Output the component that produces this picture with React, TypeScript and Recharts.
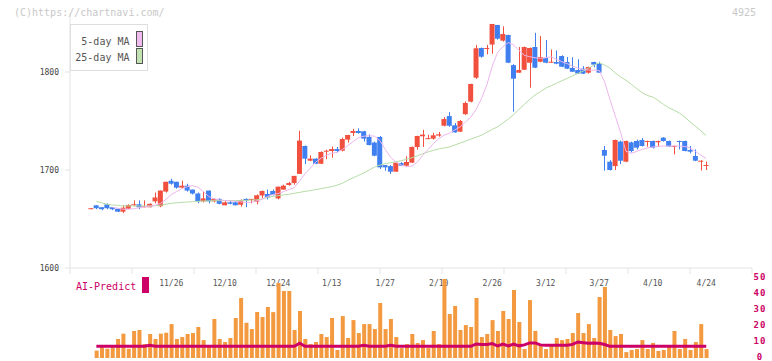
import { ComposedChart, Bar, Line, XAxis, YAxis } from "recharts";

const MONO = "'DejaVu Sans Mono', monospace";
const RED = "#f2503f";
const BLUE = "#3f7ff0";
const MAGENTA = "#cc0066";

// candles, index 0 = first session shown (15 sessions before 11/26)
const opens = [
  1660, 1664, 1662, 1665, 1662, 1660.5, 1657.5, 1660.5, 1664, 1665, 1662, 1662, 1668, 1663, 1678, 1689, 1688, 1682, 1684, 1680,
  1676, 1668, 1679, 1668, 1670.5, 1664, 1667, 1667, 1664.6, 1670.5, 1670, 1667.7, 1674, 1675.5, 1678.6, 1671, 1680, 1684.7, 1686.7, 1696,
  1724.5, 1709.5, 1711.6, 1706.4, 1718.7, 1719.4, 1721.4, 1719.7, 1731, 1737.8, 1739.8, 1739.5, 1733.7, 1728, 1733.7, 1705, 1704, 1698.3, 1707, 1704.4,
  1707.5, 1723.5, 1734.4, 1732, 1732, 1735.1, 1745.2, 1755, 1745.6, 1739.1, 1757, 1769.7, 1794.2, 1824.5, 1823.5, 1828, 1848, 1832, 1837.8, 1807,
  1799.3, 1802.3, 1809.5, 1825.5, 1810.5, 1814.3, 1809.8, 1810.2, 1816.3, 1810.2, 1804.1, 1802, 1803.4, 1799.3, 1810.2, 1808.5, 1720.4, 1708.5, 1704, 1729,
  1708.5, 1728.2, 1729.6, 1730.6, 1728.6, 1729.6, 1728.3, 1733, 1729.6, 1723.5, 1729.6, 1729.6, 1720.4, 1714.3, 1708.5, 1704.1,
];
const highs = [
  1661, 1664, 1662, 1666, 1662, 1661, 1664, 1665, 1669, 1669, 1669, 1666, 1677, 1679, 1688, 1691, 1688, 1689, 1686, 1680,
  1677, 1678, 1679, 1671, 1671, 1669, 1669, 1668, 1670, 1671, 1670.5, 1675, 1679, 1680, 1680, 1683, 1685, 1688, 1694, 1740,
  1725, 1715, 1712, 1719, 1720.7, 1724, 1723.5, 1733, 1736, 1742, 1742.5, 1740, 1736.4, 1729, 1734.7, 1705, 1705, 1708, 1708, 1714,
  1724, 1735, 1741, 1736, 1738, 1738.8, 1754, 1759, 1748, 1751, 1770, 1788, 1827.6, 1825, 1827.6, 1849, 1848, 1846.6, 1838, 1808,
  1825.5, 1826, 1825, 1840, 1836.7, 1832.7, 1823, 1822, 1817, 1815.3, 1815, 1813, 1806, 1805.5, 1810.5, 1810.5, 1724.5, 1710, 1731, 1730,
  1730, 1729, 1731, 1732.7, 1730, 1730, 1730, 1733.5, 1730, 1725, 1730, 1730, 1724.5, 1721, 1710, 1708.5,
];
const lows = [
  1660, 1660, 1659, 1660, 1659, 1657, 1656, 1660, 1663, 1660, 1662, 1662, 1666, 1662, 1677, 1685, 1681, 1681, 1678, 1675,
  1666, 1667, 1666, 1667, 1665, 1664, 1665, 1664, 1662.6, 1662, 1666, 1665, 1671, 1670, 1674, 1670, 1680, 1684, 1685, 1696,
  1706, 1709, 1706, 1706, 1711, 1712.6, 1718, 1719, 1728, 1734.7, 1737, 1729, 1725, 1714, 1701, 1699.3, 1696, 1698, 1704, 1704,
  1707, 1720.7, 1723.5, 1731.5, 1731, 1734, 1744.5, 1744, 1738, 1739, 1756, 1769, 1793, 1814.6, 1818, 1818.7, 1833, 1831, 1809, 1759.5,
  1799, 1802, 1784, 1804, 1810, 1809, 1809.5, 1808, 1805, 1803, 1800, 1798, 1798, 1798.3, 1804.8, 1799, 1699.3, 1699.5, 1700, 1706,
  1708, 1718, 1721, 1724, 1723.8, 1722, 1723.8, 1729, 1723.5, 1716, 1721, 1719, 1717, 1709, 1699.5, 1700,
];
const closes = [
  1661, 1661, 1660, 1661, 1660, 1657.5, 1661.5, 1664.3, 1665, 1662, 1663, 1665.5, 1672, 1679, 1688, 1686, 1682, 1684, 1679, 1676,
  1668, 1671, 1668, 1670.5, 1665.5, 1667, 1665.5, 1664, 1669.4, 1668.7, 1670.5, 1674.2, 1678.6, 1672, 1674.5, 1683, 1684, 1686.7, 1694, 1730,
  1711.6, 1711.6, 1706.4, 1718.4, 1719.7, 1721.4, 1719.4, 1731.6, 1735.7, 1739.8, 1737.8, 1732, 1725.5, 1714.6, 1702.7, 1702.7, 1698.3, 1707.5, 1704.4, 1708.2,
  1723.5, 1734.7, 1736.1, 1732.5, 1735.4, 1736.4, 1752, 1745.2, 1738.4, 1750, 1768.4, 1787.8, 1824.2, 1815.6, 1824.5, 1849, 1834, 1838.8, 1809.5, 1793.2,
  1802, 1825.5, 1824.5, 1804.4, 1815.3, 1809.5, 1810.5, 1808.5, 1805.4, 1803.4, 1800.3, 1798.5, 1798.3, 1805.1, 1807.5, 1799.3, 1714.6, 1700, 1730.6, 1709.5,
  1729.6, 1719.4, 1722.8, 1724.5, 1729.6, 1722.8, 1729.6, 1729.6, 1724, 1724.5, 1728.6, 1719.4, 1718.7, 1709.5, 1709.5, 1705.1,
];
const ma5 = [
  null, null, null, null, 1662, 1661, 1660, 1660, 1660.5, 1661.5, 1662.5, 1663, 1664, 1666, 1670, 1675, 1678, 1681, 1683, 1684,
  1682.5, 1678, 1673, 1670.5, 1669.5, 1669, 1668.5, 1668, 1667.5, 1667, 1667, 1668.5, 1670, 1673, 1675, 1676, 1678, 1680, 1682, 1689,
  1696, 1702, 1708, 1712, 1715, 1717, 1718, 1721, 1725, 1729, 1733, 1734.5, 1735, 1734.5, 1730, 1721, 1713, 1708, 1705, 1703.5,
  1704, 1708, 1715, 1721, 1727, 1732, 1735.5, 1737.5, 1741, 1744, 1749, 1754, 1762, 1773, 1787, 1806, 1820, 1826, 1830, 1827.6,
  1822, 1817, 1815.6, 1814.5, 1814, 1814.5, 1815.5, 1813, 1810.5, 1808.5, 1806, 1804, 1802.5, 1802, 1802, 1801.5, 1790, 1772, 1755, 1738,
  1719, 1717, 1719, 1721, 1722.5, 1723.5, 1724, 1724.5, 1724.5, 1724.5, 1724.5, 1724, 1722.5, 1719, 1715, 1712,
];
const ma25 = [
  null, 1668, 1666.5, 1665, 1664.3, 1664, 1663.3, 1663.3, 1663.3, 1663.3, 1663.3, 1663.3, 1663.5, 1664, 1665, 1666, 1666.5, 1667, 1667.3, 1667.7,
  1668, 1668.3, 1668.5, 1668.7, 1668.7, 1668.7, 1668.7, 1668.8, 1669, 1669, 1669.3, 1669.6, 1670.5, 1672, 1673, 1673.8, 1674.5, 1675.2, 1676.2, 1677.2,
  1678.2, 1679, 1680, 1681, 1682, 1683, 1684.5, 1686.5, 1689.5, 1692, 1694.5, 1697, 1700, 1703, 1705, 1706.5, 1707.5, 1708.5, 1709.5, 1711,
  1712.5, 1714.5, 1716.5, 1718.5, 1720, 1721.5, 1722.5, 1723.5, 1725.5, 1727.5, 1729.5, 1731.5, 1733.5, 1735.5, 1738.5, 1741.5, 1744, 1748, 1752, 1756.5,
  1762, 1767, 1772, 1776.5, 1780, 1783.5, 1786, 1788.5, 1791, 1793.5, 1796, 1798.5, 1801, 1804, 1807, 1809.5, 1807, 1804, 1799, 1795,
  1791.5, 1787.5, 1783, 1779, 1776, 1774.5, 1771, 1767, 1763.5, 1761, 1758, 1754, 1749, 1744.5, 1740, 1735,
];
const volumes = [
  null, 4.6, 6.7, 5.8, 6.7, 11.9, 15.2, 5.8, 16.9, 17.5, 8.7, 15, 11.9, 15.2, 15.8, 21.2, 11.9, 13.1, 15, 15.6,
  19.4, 11.2, 8, 24.4, 11.9, 10, 12.5, 25, 37.5, 22, 18.1, 28.7, 25.6, 31.9, 28.7, 46.9, 41.9, 41.9, 17.5, 29.4,
  11.9, 8.7, 10, 15, 13.1, 25, 5, 26.2, 12.5, 23.7, 15.6, 21.2, 21.2, 18.1, 34.4, 18.1, 24.4, 13.1, 6.2, 8.7,
  15, 9.4, 11.2, 6.2, 16.9, 8.7, 49.4, 27.5, 32.5, 17.5, 20.6, 19.4, 37.5, 13.1, 15, 23.7, 16.9, 29.4, 24.4, 42.5,
  22.5, 5.6, 36.2, 16.9, 8.7, 5.6, 7.5, 12.5, 11.2, 11.9, 15.6, 28.1, 15.6, 21.2, 12.5, 38.1, 44.4, 17.5, 13.7, 15,
  3.7, 5, 5.6, 11.2, 5.6, 9.4, 4.4, 5, 7.5, 16.9, 5.6, 11.9, 5, 10, 21.2, 5.6,
];
const aiPredict = [
  null, 7.3, 7.3, 7.3, 7.3, 7.3, 7.3, 7.3, 7.3, 7.3, 7.3, 8, 7.3, 7.3, 7.3, 7.3, 7.3, 7.3, 7.3, 7.3,
  7.3, 7.3, 7.3, 7.3, 7.3, 7.3, 7.3, 7.3, 7.3, 7.3, 7.3, 7.3, 7.3, 7.3, 7.3, 7.3, 7.3, 7.3, 7.3, 9.2,
  7.3, 7.3, 7.3, 7.3, 7.3, 7.3, 7.3, 7.3, 7.3, 7.3, 7.3, 8, 7.3, 7.3, 7.3, 7.3, 8, 7.3, 7.3, 7.3,
  7.3, 7.3, 7.3, 7.3, 7.3, 7.3, 7.3, 7.3, 7.3, 7.3, 7.3, 7.3, 8.8, 8.5, 8.5, 9, 7.5, 8.7, 7.5, 8.7,
  7.6, 8.2, 9.4, 9.4, 8.2, 8, 8, 8, 8, 8, 8.5, 10, 9.6, 9.2, 9.4, 9.2, 8.4, 7.3, 7.3, 7.3,
  7.3, 7.3, 7.3, 7.3, 7.3, 7.3, 7.3, 7.3, 7.3, 7.3, 7.3, 7.3, 7.3, 7.3, 7.3, 7.3,
];

const dateTicks = [15, 25, 35, 45, 55, 65, 75, 85, 95, 105, 115];
const dateLabels = ["11/26", "12/10", "12/24", "1/13", "1/27", "2/10", "2/26", "3/12", "3/27", "4/10", "4/24"];
const priceTicks = [1600, 1700, 1800];
const volumeTicks = [0, 10, 20, 30, 40, 50];
// eleven equal divisions of the time axis
const gridTicks = [0, 1, 2, 3, 4, 5, 6, 7, 8, 9, 10, 11];

const X_DOMAIN = [-3.925, 123.551];

const rows = opens.map((o, i) => ({
  i,
  open: o,
  high: highs[i],
  low: lows[i],
  close: closes[i],
  ma5: ma5[i],
  ma25: ma25[i],
  vol: volumes[i],
  ai: aiPredict[i],
}));
const gridRows = gridTicks.map((g) => ({ g, v: 0 }));

function Candle(props: any) {
  const { x, y, width, height, payload } = props;
  if (x == null || y == null) return null;
  const { open, close, high, low } = payload;
  const color = close >= open ? RED : BLUE;
  const k = high > low ? height / (high - low) : 0;
  const top = y + (high - Math.max(open, close)) * k;
  const bot = y + (high - Math.min(open, close)) * k;
  const cx = Math.round(x + width / 2) + 0.5;
  return (
    <g>
      <line x1={cx} x2={cx} y1={y} y2={y + height} stroke={color} strokeWidth={1} />
      <rect x={x} y={top} width={width} height={Math.max(bot - top, 1)} fill={color} />
    </g>
  );
}

function VolTick(props: any) {
  const { x, y, payload } = props;
  return (
    <text x={x} y={y} dy="0.2em" textAnchor="middle" fontSize={9} fontWeight="bold" letterSpacing={1} fontFamily={MONO} fill={MAGENTA}>
      {payload.value}
    </text>
  );
}

const NoTick = () => <g />;

export default function App() {
  return (
    <div style={{ position: "absolute", left: 0, top: 0, width: 772, height: 361, background: "#fff", overflow: "hidden" }}>
      {/* price panel */}
      <div style={{ position: "absolute", left: 0, top: 0 }}>
        <ComposedChart width={772} height={288} data={rows} margin={{ top: 13.2, right: 20, bottom: 0, left: 10 }}>
          <XAxis
            dataKey="i"
            type="number"
            domain={X_DOMAIN}
            allowDataOverflow
            ticks={dateTicks}
            interval={0}
            tickFormatter={(v) => dateLabels[dateTicks.indexOf(v)] ?? ""}
            axisLine={false}
            tickLine={false}
            tickSize={6}
            tickMargin={6}
            height={20}
            tick={{ fontSize: 8, fill: "#555", fontFamily: MONO }}
          />
          <YAxis
            type="number"
            domain={[1600, 1860]}
            allowDataOverflow
            ticks={priceTicks}
            interval={0}
            width={60}
            tickSize={5}
            tickMargin={6}
            axisLine={{ stroke: "#e3e3e3" }}
            tickLine={{ stroke: "#e3e3e3" }}
            tick={{ fontSize: 8, fill: "#444", fontFamily: MONO }}
          />
          <Line dataKey="ma25" stroke="#b5dca5" strokeWidth={1} dot={false} activeDot={false} isAnimationActive={false} />
          <Line dataKey="ma5" stroke="#ecb6ec" strokeWidth={1} dot={false} activeDot={false} isAnimationActive={false} />
          <Bar dataKey={(d: any) => [d.low, d.high]} barSize={5} shape={<Candle />} isAnimationActive={false} />
        </ComposedChart>
      </div>

      {/* time axis baseline with its grid ticks */}
      <div style={{ position: "absolute", left: 0, top: 248 }}>
        <ComposedChart width={772} height={32} data={gridRows} margin={{ top: 0, right: 20, bottom: 0, left: 70 }}>
          <XAxis
            dataKey="g"
            type="number"
            domain={[0, 11]}
            allowDataOverflow
            ticks={gridTicks}
            interval={0}
            height={12}
            tick={<NoTick />}
            tickSize={6}
            axisLine={{ stroke: "#e3e3e3" }}
            tickLine={{ stroke: "#e3e3e3" }}
          />
          <YAxis hide domain={[0, 1]} />
          <Line dataKey="v" stroke="none" dot={false} activeDot={false} isAnimationActive={false} />
        </ComposedChart>
      </div>

      {/* volume panel */}
      <div style={{ position: "absolute", left: 0, top: 268 }}>
        <ComposedChart width={772} height={93} data={rows} margin={{ top: 10, right: 0, bottom: 3, left: 70 }}>
          <XAxis dataKey="i" type="number" domain={X_DOMAIN} allowDataOverflow hide />
          <YAxis
            orientation="right"
            type="number"
            domain={[0, 50]}
            allowDataOverflow
            ticks={volumeTicks}
            interval={0}
            width={20}
            axisLine={false}
            tickLine={false}
            tick={<VolTick />}
          />
          <Bar dataKey="vol" fill="#f39a40" barSize={4} isAnimationActive={false} />
          <Line dataKey="ai" stroke={MAGENTA} strokeWidth={3} dot={false} activeDot={false} isAnimationActive={false} />
        </ComposedChart>
      </div>

      {/* labels and legend */}
      <svg width={772} height={361} style={{ position: "absolute", left: 0, top: 0, pointerEvents: "none" }}>
        <text x={14} y={15.5} fontSize={10} fontFamily={MONO} fill="#c8c8c8">(C)https://chartnavi.com/</text>
        <text x={756} y={15.5} fontSize={10} fontFamily={MONO} fill="#c8c8c8" textAnchor="end">4925</text>
        <rect x={70.5} y={24.5} width={77} height={46} fill="#fff" stroke="#dedede" />
        <text x={129.5} y={44.5} fontSize={10} fontFamily={MONO} fill="#555" textAnchor="end">5-day MA</text>
        <text x={129.5} y={60.5} fontSize={10} fontFamily={MONO} fill="#555" textAnchor="end">25-day MA</text>
        <rect x={136.5} y={31.5} width={6} height={15} fill="#f0bcf0" stroke="#555" />
        <rect x={136.5} y={48.5} width={6} height={15} fill="#c2e2b2" stroke="#555" />
        <text x={76} y={289.5} fontSize={10} fontFamily={MONO} fill={MAGENTA}>AI-Predict</text>
        <rect x={142} y={277} width={7} height={16} fill={MAGENTA} />
      </svg>
    </div>
  );
}
